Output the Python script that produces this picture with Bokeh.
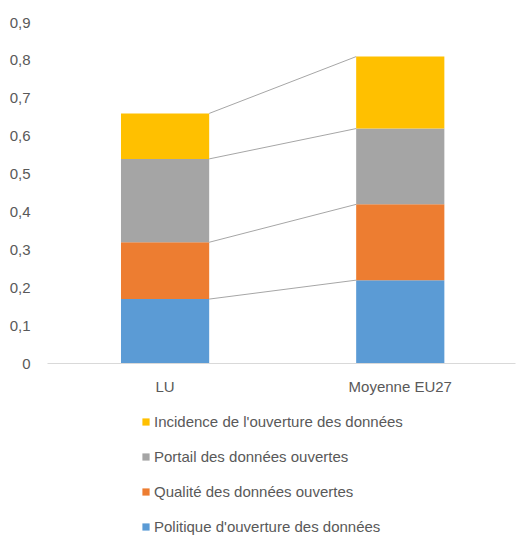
from bokeh.plotting import figure
from bokeh.layouts import column
from bokeh.models import Range1d, FixedTicker, CustomJSTickFormatter, Legend, LegendItem
from bokeh.embed import file_html
from bokeh.resources import INLINE

categories = ["LU", "Moyenne EU27"]
series_names = [
    "Politique d'ouverture des données",
    "Qualité des données ouvertes",
    "Portail des données ouvertes",
    "Incidence de l'ouverture des données",
]
politique = [0.17, 0.22]
qualite = [0.15, 0.20]
portail = [0.22, 0.20]
incidence = [0.12, 0.19]
colors = ["#5b9bd5", "#ed7d31", "#a5a5a5", "#ffc000"]
y_ticks = [0.0, 0.1, 0.2, 0.3, 0.4, 0.5, 0.6, 0.7, 0.8, 0.9]

FONT = "Liberation Sans"
TXT = "#595959"
FS = "15px"
BAR_W = 0.375

p = figure(width=517, height=400, output_backend="svg", toolbar_location=None,
           x_range=Range1d(-0.5, 1.49), y_range=Range1d(0, 0.9),
           min_border_left=47, min_border_right=2, min_border_top=22, min_border_bottom=37)
p.outline_line_color = None
p.xgrid.visible = False
p.ygrid.visible = False

xs = list(range(len(categories)))
series = [politique, qualite, portail, incidence]
bottom = [0.0] * len(categories)
for vals, col in zip(series, colors):
    top = [b + v for b, v in zip(bottom, vals)]
    p.vbar(x=xs, width=BAR_W, bottom=bottom, top=top, fill_color=col, line_color=None)
    p.line(x=[xs[0] + BAR_W / 2, xs[1] - BAR_W / 2], y=[top[0], top[1]],
           line_color="#a6a6a6", line_width=1)
    bottom = top

p.xaxis.ticker = FixedTicker(ticks=xs)
p.xaxis.major_label_overrides = {i: c for i, c in enumerate(categories)}
p.xaxis.major_tick_line_color = None
p.xaxis.minor_tick_line_color = None
p.xaxis.axis_line_color = "#d9d9d9"
p.xaxis.major_label_text_font = FONT
p.xaxis.major_label_text_font_size = FS
p.xaxis.major_label_text_color = TXT
p.xaxis.major_label_standoff = 8

p.yaxis.ticker = FixedTicker(ticks=y_ticks)
p.yaxis.formatter = CustomJSTickFormatter(code="""
    if (Math.abs(tick) < 1e-9) return "0";
    return tick.toFixed(1).replace('.', ',');
""")
p.yaxis.major_tick_line_color = None
p.yaxis.minor_tick_line_color = None
p.yaxis.axis_line_color = None
p.yaxis.major_label_text_font = FONT
p.yaxis.major_label_text_font_size = FS
p.yaxis.major_label_text_color = TXT
p.yaxis.major_label_standoff = 11

# legend figure below the chart (zero-width bars only serve as legend swatches)
pl = figure(width=517, height=135, output_backend="svg", toolbar_location=None,
            min_border_left=47, min_border_right=2, min_border_top=0, min_border_bottom=0,
            x_range=Range1d(-0.5, 1.5), y_range=Range1d(0, 1))
pl.axis.visible = False
pl.grid.visible = False
pl.outline_line_color = None
leg_renderers = [pl.vbar(x=xs, width=0, bottom=0, top=vals, fill_color=c, line_color=None)
                 for vals, c in zip(series, colors)]
items = [LegendItem(label=n, renderers=[r]) for n, r in zip(series_names, leg_renderers)][::-1]
legend = Legend(items=items, orientation="vertical", location=(94, 0),
                label_text_font=FONT, label_text_font_size=FS, label_text_color=TXT,
                glyph_width=9, glyph_height=9, label_height=16, spacing=18,
                padding=0, margin=0, label_standoff=4,
                border_line_color=None, background_fill_alpha=0)
pl.add_layout(legend, "center")

layout = column(p, pl, spacing=0)
open("out.html", "w").write(file_html(layout, INLINE))
